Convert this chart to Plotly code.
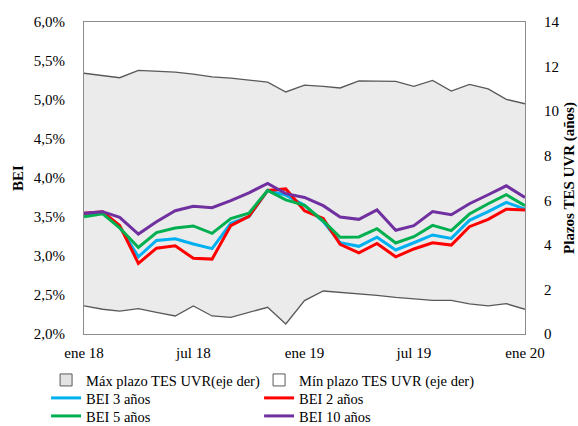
import plotly.graph_objects as go
import pandas as pd

months = pd.date_range("2018-01-01", "2020-01-01", freq="MS")

max_plazo = [11.70, 11.60, 11.50, 11.83, 11.78, 11.75, 11.66, 11.54, 11.48, 11.40, 11.30, 10.86, 11.17,
             11.11, 11.04, 11.36, 11.35, 11.34, 11.11, 11.38, 10.90, 11.20, 11.00, 10.53, 10.33]
min_plazo = [1.26, 1.11, 1.03, 1.14, 0.97, 0.81, 1.26, 0.81, 0.75, 0.97, 1.20, 0.45, 1.50,
             1.93, 1.87, 1.82, 1.73, 1.64, 1.58, 1.51, 1.51, 1.35, 1.26, 1.36, 1.11]
bei3 = [3.538, 3.556, 3.376, 2.99, 3.20, 3.22, 3.154, 3.094, 3.42, 3.504, 3.84, 3.78, 3.65,
        3.44, 3.17, 3.124, 3.24, 3.077, 3.17, 3.27, 3.226, 3.457, 3.568, 3.688, 3.60]
bei2 = [3.547, 3.568, 3.39, 2.906, 3.10, 3.13, 2.97, 2.96, 3.39, 3.51, 3.84, 3.86, 3.58,
        3.48, 3.15, 3.04, 3.16, 2.99, 3.09, 3.17, 3.14, 3.376, 3.47, 3.60, 3.59]
bei5 = [3.504, 3.54, 3.36, 3.11, 3.30, 3.36, 3.385, 3.29, 3.48, 3.55, 3.84, 3.72, 3.65,
        3.449, 3.24, 3.244, 3.35, 3.167, 3.248, 3.393, 3.325, 3.538, 3.67, 3.786, 3.645]
bei10 = [3.547, 3.568, 3.496, 3.282, 3.44, 3.58, 3.637, 3.62, 3.71, 3.81, 3.93, 3.80, 3.75,
         3.645, 3.50, 3.47, 3.59, 3.33, 3.39, 3.57, 3.53, 3.67, 3.785, 3.90, 3.75]

x_tickvals = ["2018-01-01", "2018-07-01", "2019-01-01", "2019-07-01", "2020-01-01"]
x_ticktext = ["ene 18", "jul 18", "ene 19", "jul 19", "ene 20"]
left_tickvals = [2.0, 2.5, 3.0, 3.5, 4.0, 4.5, 5.0, 5.5, 6.0]
left_ticktext = ["2,0%", "2,5%", "3,0%", "3,5%", "4,0%", "4,5%", "5,0%", "5,5%", "6,0%"]
right_tickvals = [0, 2, 4, 6, 8, 10, 12, 14]

FONT = "Liberation Serif, Times New Roman, serif"
AXIS_COLOR = "#8c8c8c"
AREA_LINE = "#595959"

fig = go.Figure()

# shaded band between min and max maturity (right axis)
fig.add_trace(go.Scatter(
    x=months, y=min_plazo, name="Mín plazo TES UVR (eje der)", yaxis="y",
    mode="lines", line=dict(color=AREA_LINE, width=1.3),
    fill="tozeroy", fillcolor="#ffffff", showlegend=False))
fig.add_trace(go.Scatter(
    x=months, y=max_plazo, name="Máx plazo TES UVR(eje der)", yaxis="y",
    mode="lines", line=dict(color=AREA_LINE, width=1.3),
    fill="tonexty", fillcolor="#ebebeb", showlegend=False))

# legend swatches for the band (box symbols)
fig.add_trace(go.Scatter(
    x=[None], y=[None], yaxis="y", mode="markers", name="Máx plazo TES UVR(eje der)",
    marker=dict(symbol="square", size=12, color="#e3e3e3", line=dict(color=AREA_LINE, width=1)),
    legend="legend"))
fig.add_trace(go.Scatter(
    x=[None], y=[None], yaxis="y", mode="markers", name="Mín plazo TES UVR (eje der)",
    marker=dict(symbol="square", size=12, color="#ffffff", line=dict(color=AREA_LINE, width=1)),
    legend="legend2"))

for name, vals, color, leg in [
    ("BEI 3 años", bei3, "#00b0f0", "legend3"),
    ("BEI 2 años", bei2, "#ff0000", "legend4"),
    ("BEI 5 años", bei5, "#00b050", "legend5"),
    ("BEI 10 años", bei10, "#7030a0", "legend6"),
]:
    fig.add_trace(go.Scatter(
        x=months, y=vals, name=name, yaxis="y2", mode="lines",
        line=dict(color=color, width=3), legend=leg))


def legend_cell(x, y):
    return dict(
        orientation="h", x=x, xanchor="left", y=y, yanchor="top",
        font=dict(family=FONT, size=14.5), itemwidth=30,
        bgcolor="rgba(0,0,0,0)")


COL1, COL2 = -0.086, 0.397
ROW1, ROW2, ROW3 = -0.0962, -0.1538, -0.2115

fig.update_layout(
    width=578, height=426,
    margin=dict(l=84, r=53, t=22, b=92, autoexpand=False),
    paper_bgcolor="white", plot_bgcolor="white",
    font=dict(family=FONT, size=15, color="#000000"),
    showlegend=True,
    xaxis=dict(
        range=[months[0], months[-1]], tickvals=x_tickvals, ticktext=x_ticktext,
        showgrid=False, zeroline=False, showline=True, mirror=True,
        linecolor=AXIS_COLOR, linewidth=1, ticks="", ticklabelstandoff=5),
    yaxis=dict(
        side="right", range=[0, 14], tickvals=right_tickvals,
        showgrid=False, zeroline=False, showline=True, linecolor=AXIS_COLOR,
        linewidth=1, ticks="", ticklabelstandoff=15,
        title=dict(text="<b>Plazos TES UVR (años)</b>", standoff=4,
                   font=dict(family=FONT, size=15))),
    yaxis2=dict(
        overlaying="y", side="left", range=[2.0, 6.0],
        tickvals=left_tickvals, ticktext=left_ticktext,
        showgrid=False, zeroline=False, showline=True, linecolor=AXIS_COLOR,
        linewidth=1, ticks="", ticklabelstandoff=15,
        title=dict(text="<b>BEI</b>", standoff=6,
                   font=dict(family=FONT, size=15))),
    legend=legend_cell(COL1, ROW1),
    legend2=legend_cell(COL2, ROW1),
    legend3=legend_cell(COL1, ROW2),
    legend4=legend_cell(COL2, ROW2),
    legend5=legend_cell(COL1, ROW3),
    legend6=legend_cell(COL2, ROW3),
)

fig.write_html("out.html", config={"displayModeBar": False},
               post_script="document.body.style.margin='0px';")
